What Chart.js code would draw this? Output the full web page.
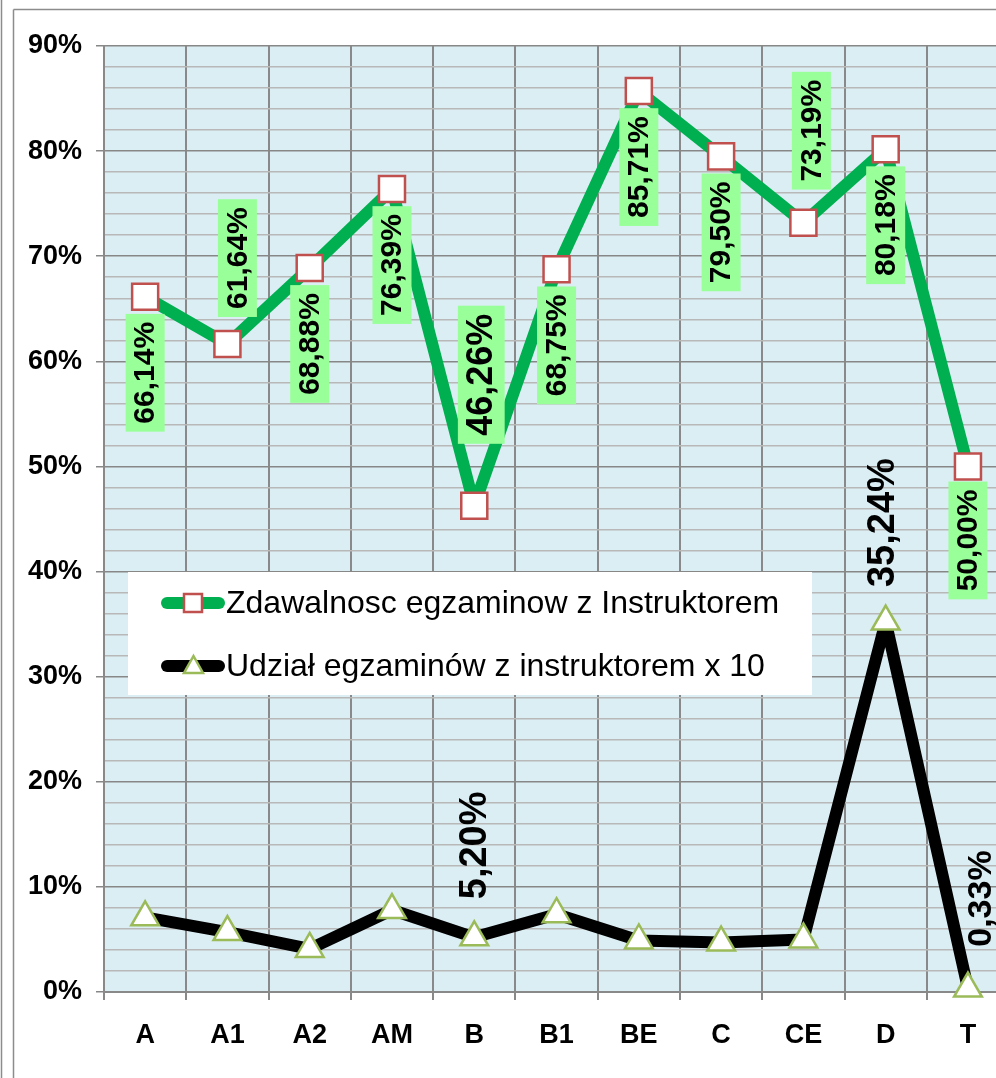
<!DOCTYPE html>
<html>
<head>
<meta charset="utf-8">
<script src="https://cdn.jsdelivr.net/npm/chart.js@4"></script>
<style>
  html, body { margin: 0; padding: 0; background: #fff; overflow: hidden; }
  canvas { display: block; }
</style>
</head>
<body>
<canvas id="chart" width="1030" height="1078"></canvas>
<script>
// data
const categories = ['A', 'A1', 'A2', 'AM', 'B', 'B1', 'BE', 'C', 'CE', 'D', 'T'];
const passRate = [66.14, 61.64, 68.88, 76.39, 46.26, 68.75, 85.71, 79.50, 73.19, 80.18, 50.00];
const shareX10 = [7.1, 5.7, 4.1, 7.8, 5.20, 7.4, 4.9, 4.7, 5.0, 35.24, 0.33];
const seriesNames = ['Zdawalnosc egzaminow z Instruktorem', 'Udział egzaminów z instruktorem x 10'];

// label placement (pixel shift from the point, font size), null = no label
const passLabels = [
  [0, 76, 30], [10, -86, 30], [0, 76, 30], [0, 76, 30], [7, -131, 36], [0, 76, 30],
  [0, 76, 30], [0, 76, 30], [8, -92, 30], [0, 76, 30], [0, 74, 30]
];
const shareLabels = [null, null, null, null, [0, -92, 38], null, null, null, null, [-3, -99, 38], [13, -90, 34]];

const FONT = '"Liberation Sans", Arial, sans-serif';

function fmt(v) {
  return v.toFixed(2).replace('.', ',') + '%';
}

function drawLabel(ctx, text, cx, cy, size, bg) {
  ctx.save();
  ctx.translate(cx, cy);
  ctx.rotate(-Math.PI / 2);
  ctx.font = 'bold ' + size + 'px ' + FONT;
  const w = ctx.measureText(text).width;
  if (bg) {
    const bw = w + 16, bh = size * 1.3;
    ctx.fillStyle = bg;
    ctx.fillRect(-bw / 2, -bh / 2, bw, bh);
  }
  ctx.fillStyle = '#000';
  ctx.textAlign = 'center';
  ctx.textBaseline = 'middle';
  ctx.fillText(text, 0, 1);
  ctx.restore();
}

const plotBg = {
  id: 'plotBg',
  beforeDraw(chart) {
    const { ctx, chartArea: a } = chart;
    ctx.save();
    ctx.fillStyle = '#DBEEF4';
    ctx.fillRect(a.left, a.top, a.right - a.left, a.bottom - a.top);
    // outer frame
    ctx.strokeStyle = '#8c8c8c';
    ctx.lineWidth = 1.5;
    ctx.beginPath();
    ctx.moveTo(1.5, 0); ctx.lineTo(1.5, chart.height);
    ctx.moveTo(13.5, 9.5); ctx.lineTo(13.5, chart.height);
    ctx.moveTo(13.5, 9.5); ctx.lineTo(chart.width, 9.5);
    ctx.stroke();
    ctx.restore();
  }
};

const legendBox = {
  id: 'legendBox',
  afterDatasetsDraw(chart) {
    const ctx = chart.ctx;
    const ds = chart.data.datasets;
    ctx.save();
    ctx.fillStyle = '#fff';
    ctx.fillRect(128, 572, 684, 123);
    const rows = [603, 666];
    ds.forEach((d, i) => {
      const y = rows[i];
      ctx.strokeStyle = d.borderColor;
      ctx.lineWidth = 12;
      ctx.lineCap = 'round';
      ctx.beginPath();
      ctx.moveTo(167, y); ctx.lineTo(219, y);
      ctx.stroke();
      ctx.fillStyle = '#fff';
      ctx.strokeStyle = d.pointBorderColor;
      ctx.lineWidth = 2.5;
      ctx.lineCap = 'butt';
      ctx.beginPath();
      if (d.pointStyle === 'rect') {
        ctx.rect(184, y - 9, 18, 18);
      } else {
        ctx.moveTo(193.5, y - 10); ctx.lineTo(203, y + 7); ctx.lineTo(184, y + 7); ctx.closePath();
      }
      ctx.fill();
      ctx.stroke();
      ctx.fillStyle = '#000';
      ctx.font = '32px ' + FONT;
      ctx.textAlign = 'left';
      ctx.textBaseline = 'middle';
      ctx.fillText(d.label, 226, y + 1);
    });
    ctx.restore();
  }
};

const valueLabels = {
  id: 'valueLabels',
  afterDraw(chart) {
    const ctx = chart.ctx;
    const m0 = chart.getDatasetMeta(0).data;
    const m1 = chart.getDatasetMeta(1).data;
    passRate.forEach((v, i) => {
      const p = passLabels[i];
      if (!p) return;
      drawLabel(ctx, fmt(v), m0[i].x + p[0], m0[i].y + p[1], p[2], '#99FF99');
    });
    shareX10.forEach((v, i) => {
      const p = shareLabels[i];
      if (!p) return;
      drawLabel(ctx, fmt(v), m1[i].x + p[0], m1[i].y + p[1], p[2], null);
    });
  }
};

new Chart(document.getElementById('chart'), {
  type: 'line',
  data: {
    labels: categories,
    datasets: [
      {
        label: seriesNames[0],
        data: passRate,
        borderColor: '#00B050',
        borderWidth: 12,
        borderJoinStyle: 'round',
        tension: 0,
        pointStyle: 'rect',
        pointRadius: 18.4,
        pointBorderColor: '#C0504D',
        pointBackgroundColor: '#fff',
        pointBorderWidth: 2.5,
        clip: false
      },
      {
        label: seriesNames[1],
        data: shareX10,
        borderColor: '#000',
        borderWidth: 12,
        borderJoinStyle: 'round',
        tension: 0,
        pointStyle: 'triangle',
        pointRadius: 16,
        pointBorderColor: '#9BBB59',
        pointBackgroundColor: '#fff',
        pointBorderWidth: 2.5,
        clip: false
      }
    ]
  },
  options: {
    responsive: false,
    animation: false,
    devicePixelRatio: 1,
    layout: { padding: { top: 46, right: 11, left: 0, bottom: 0 } },
    plugins: {
      legend: { display: false },
      tooltip: { enabled: false }
    },
    scales: {
      x: {
        offset: true,
        afterFit(s) { s.height = 86; },
        grid: {
          offset: true,
          color: '#898989',
          lineWidth: 2,
          tickLength: 8,
          tickColor: '#898989'
        },
        border: { color: '#898989', width: 2 },
        ticks: {
          color: '#000',
          padding: 19,
          font: { family: FONT, size: 27, weight: 'bold' }
        }
      },
      y: {
        min: 0,
        max: 90,
        afterFit(s) { s.width = 104; },
        grid: {
          color: c => (c.tick && c.tick.value % 10 === 0) ? '#878787' : '#b8b8b8',
          lineWidth: 1.5,
          tickLength: 8,
          tickColor: c => (c.tick && c.tick.value % 10 === 0) ? '#878787' : 'rgba(0,0,0,0)'
        },
        border: { color: '#898989', width: 2 },
        ticks: {
          stepSize: 2,
          autoSkip: false,
          padding: 14,
          color: '#000',
          font: { family: FONT, size: 27, weight: 'bold' },
          callback: v => (v % 10 === 0 ? v + '%' : '')
        }
      }
    }
  },
  plugins: [plotBg, legendBox, valueLabels]
});
</script>
</body>
</html>
